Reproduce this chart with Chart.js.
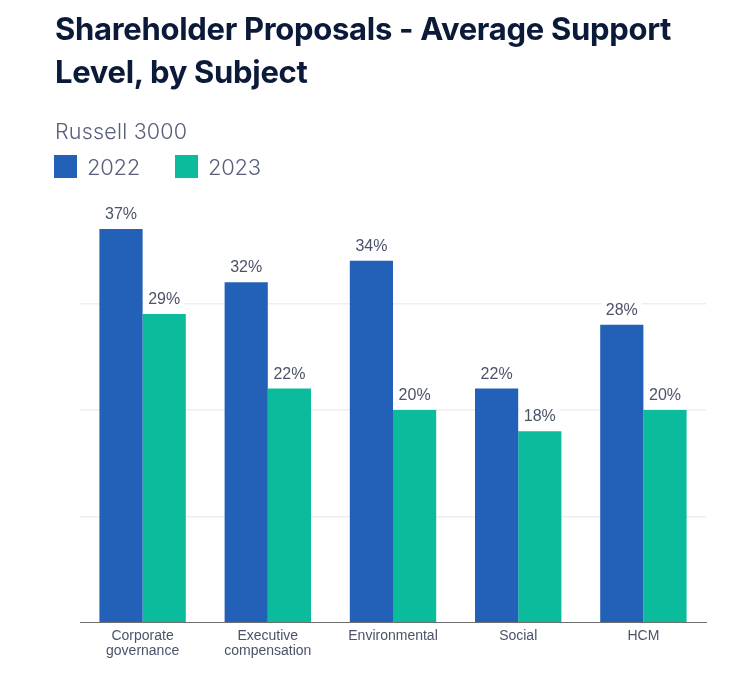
<!DOCTYPE html>
<html>
<head>
<meta charset="utf-8">
<script src="https://cdn.jsdelivr.net/npm/chart.js@4/dist/chart.umd.min.js"></script>
<style>
  html, body { margin: 0; padding: 0; background: #fff; }
  #wrap { position: relative; width: 731px; height: 674px; overflow: hidden; }
  #title { position: absolute; left: 55px; top: 8px; width: 680px; margin: 0;
    font-family: Inter, "Liberation Sans", sans-serif; font-weight: 700; font-size: 31px;
    line-height: 42.5px; letter-spacing: -0.3px; color: #0c1a3a; }
  #sub { position: absolute; left: 55px; top: 118px; margin: 0;
    font-family: Inter, "Liberation Sans", sans-serif; font-weight: 300; font-size: 21.5px;
    letter-spacing: 0.2px; color: #56607a; }
  .leg { position: absolute; top: 155px; height: 23px; display: flex; align-items: center;
    font-family: Inter, "Liberation Sans", sans-serif; font-weight: 300; font-size: 22px; color: #56607a; letter-spacing: -0.3px; }
  .sw { width: 23px; height: 23px; margin-right: 10px; display: inline-block; }
  #chartBox { position: absolute; left: 0; top: 0; width: 731px; height: 674px; }
</style>
</head>
<body>
<div id="wrap">
  <div id="chartBox"><canvas id="c"></canvas></div>
  <h1 id="title"></h1>
  <div id="sub"></div>
  <div id="legend"></div>
</div>
<script>
const chartTitle = ['Shareholder Proposals - Average Support', 'Level, by Subject'];
const subtitle = 'Russell 3000';
const categories = [['Corporate', 'governance'], ['Executive', 'compensation'], ['Environmental'], ['Social'], ['HCM']];
const seriesNames = ['2022', '2023'];
const values2022 = [37, 32, 34, 22, 28];
const values2023 = [29, 22, 20, 18, 20];
const seriesColors = ['#2261b7', '#0abb9c'];
const yTicks = [0, 10, 20, 30, 40];

document.getElementById('title').innerHTML = chartTitle.join('<br>');
document.getElementById('sub').textContent = subtitle;
const legLefts = [54, 175];
const legend = document.getElementById('legend');
seriesNames.forEach((n, i) => {
  const d = document.createElement('div');
  d.className = 'leg';
  d.style.left = legLefts[i] + 'px';
  d.innerHTML = '<span class="sw" style="background:' + seriesColors[i] + '"></span>' + n;
  legend.appendChild(d);
});

const labelPlugin = {
  id: 'valueLabels',
  afterDatasetsDraw(chart) {
    const ctx = chart.ctx;
    ctx.save();
    ctx.font = '16px "Liberation Sans", Arial, sans-serif';
    ctx.textAlign = 'center';
    ctx.textBaseline = 'alphabetic';
    chart.data.datasets.forEach((ds, di) => {
      const meta = chart.getDatasetMeta(di);
      meta.data.forEach((bar, i) => {
        const txt = ds.data[i] + '%';
        const w = ctx.measureText(txt).width;
        const by = bar.y - 10;
        ctx.fillStyle = '#ffffff';
        ctx.fillRect(bar.x - w / 2 - 4, by - 15, w + 8, 19);
        ctx.fillStyle = '#4b5369';
        ctx.fillText(txt, bar.x, by);
      });
    });
    ctx.restore();
  }
};

new Chart(document.getElementById('c'), {
  type: 'bar',
  data: {
    labels: categories,
    datasets: [
      { label: seriesNames[0], data: values2022, backgroundColor: seriesColors[0], borderWidth: 0 },
      { label: seriesNames[1], data: values2023, backgroundColor: seriesColors[1], borderWidth: 0 }
    ]
  },
  options: {
    responsive: true,
    maintainAspectRatio: false,
    animation: false,
    layout: { padding: { top: 197, left: 80, right: 25, bottom: 9 } },
    plugins: { legend: { display: false }, tooltip: { enabled: false }, title: { display: false } },
    datasets: { bar: { categoryPercentage: 0.69, barPercentage: 1.0 } },
    scales: {
      x: {
        grid: { display: false, drawTicks: false },
        border: { display: true, color: '#6e6e6e', width: 1 },
        ticks: { padding: 6, color: '#4b5369', font: { family: '"Liberation Sans", Arial, sans-serif', size: 14, lineHeight: 1.08 } }
      },
      y: {
        min: yTicks[0], max: yTicks[yTicks.length - 1],
        afterBuildTicks(scale) { scale.ticks = yTicks.map(v => ({ value: v })); },
        ticks: { display: false },
        border: { display: false },
        grid: {
          drawTicks: false,
          lineWidth: 1.5,
          color: (c) => (c.tick && (c.tick.value === 0 || c.tick.value === 40)) ? 'rgba(0,0,0,0)' : '#eeeeee'
        }
      }
    }
  },
  plugins: [labelPlugin]
});
</script>
</body>
</html>
